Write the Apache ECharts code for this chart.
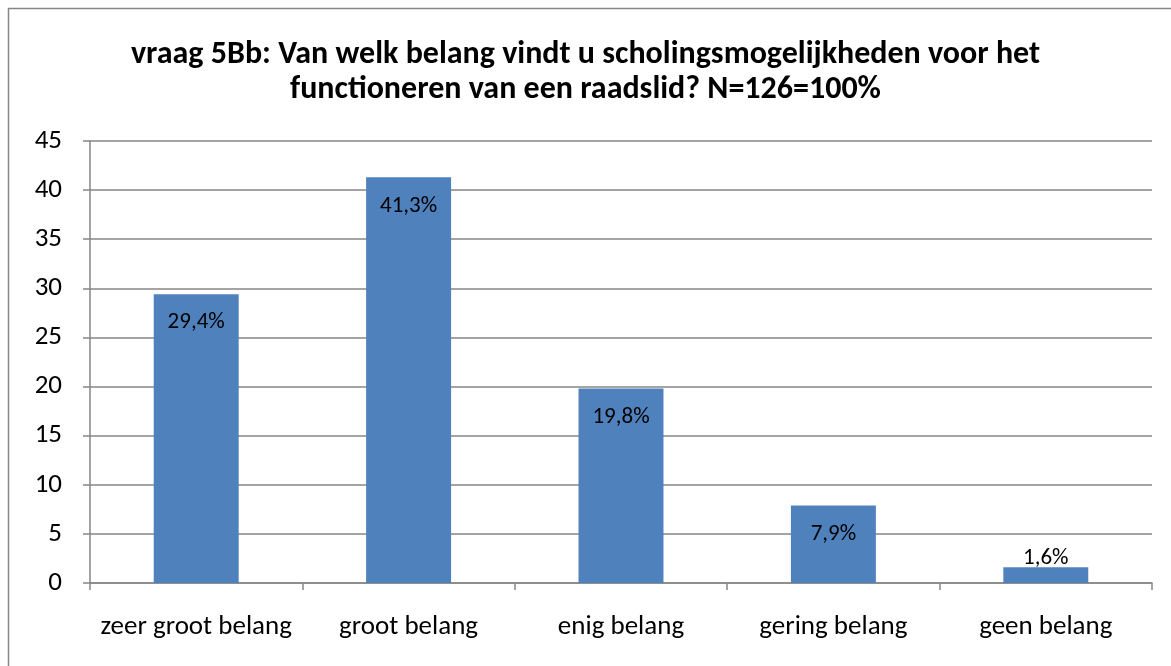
<!DOCTYPE html>
<html>
<head>
    <meta charset="utf-8">
    <title>vraag 5Bb</title>
    <script src="https://cdn.jsdelivr.net/npm/echarts@6/dist/echarts.min.js"></script>
    <style>
        html, body {
            margin: 0;
            padding: 0;
            width: 100%;
            height: 100%;
            overflow: hidden;
            background: #fff;
        }
        #chart {
            width: 1171px;
            height: 666px;
        }
    </style>
</head>
<body>
    <div id="chart"></div>
    <script>
        // data
        const categories = ['zeer groot belang', 'groot belang', 'enig belang', 'gering belang', 'geen belang'];
        const values = [29.4, 41.3, 19.8, 7.9, 1.6];
        const titleLines = [
            'vraag 5Bb: Van welk belang vindt u scholingsmogelijkheden voor het',
            'functioneren van een raadslid? N=126=100%'
        ];

        const fontFamily = "Carlito, 'Open Sans', sans-serif";
        const gray = '#868686';

        const chart = echarts.init(document.getElementById('chart'), null, { renderer: 'canvas' });

        const barData = values.map(v => ({
            value: v,
            // small bar: label does not fit inside, put it on top
            label: v < 5 ? { position: 'top', distance: -2 } : undefined
        }));

        chart.setOption({
            backgroundColor: '#fff',
            animation: false,
            title: {
                text: titleLines.join('\n'),
                left: 'center',
                top: 32,
                textStyle: {
                    fontFamily: fontFamily,
                    fontWeight: 'bold',
                    fontSize: 32,
                    lineHeight: 35,
                    color: '#000'
                }
            },
            graphic: [{
                type: 'rect',
                shape: { x: 8.5, y: 8.5, width: 1200, height: 700 },
                style: { fill: null, stroke: gray, lineWidth: 1.5 },
                silent: true
            }],
            grid: {
                left: 90,
                right: 19,
                top: 141,
                bottom: 83
            },
            xAxis: {
                type: 'category',
                data: categories,
                axisLine: { lineStyle: { color: gray, width: 1.5 } },
                axisTick: { show: true, interval: 0, length: 7, lineStyle: { color: gray, width: 1.5 } },
                axisLabel: {
                    interval: 0,
                    color: '#000',
                    fontFamily: fontFamily,
                    fontSize: 27,
                    margin: 31
                }
            },
            yAxis: {
                type: 'value',
                min: 0,
                max: 45,
                interval: 5,
                axisLine: { show: true, lineStyle: { color: gray, width: 1.5 } },
                axisTick: { show: true, length: 7, lineStyle: { color: gray, width: 1.5 } },
                splitLine: { lineStyle: { color: gray, width: 1.5 } },
                axisLabel: {
                    color: '#000',
                    fontFamily: fontFamily,
                    fontSize: 27,
                    margin: 28
                }
            },
            series: [{
                type: 'bar',
                data: barData,
                barWidth: '40%',
                itemStyle: { color: '#4F81BD' },
                label: {
                    show: true,
                    position: 'insideTop',
                    distance: 17,
                    color: '#000',
                    fontFamily: fontFamily,
                    fontSize: 23,
                    formatter: p => p.value.toFixed(1).replace('.', ',') + '%'
                }
            }]
        });
    </script>
</body>
</html>
